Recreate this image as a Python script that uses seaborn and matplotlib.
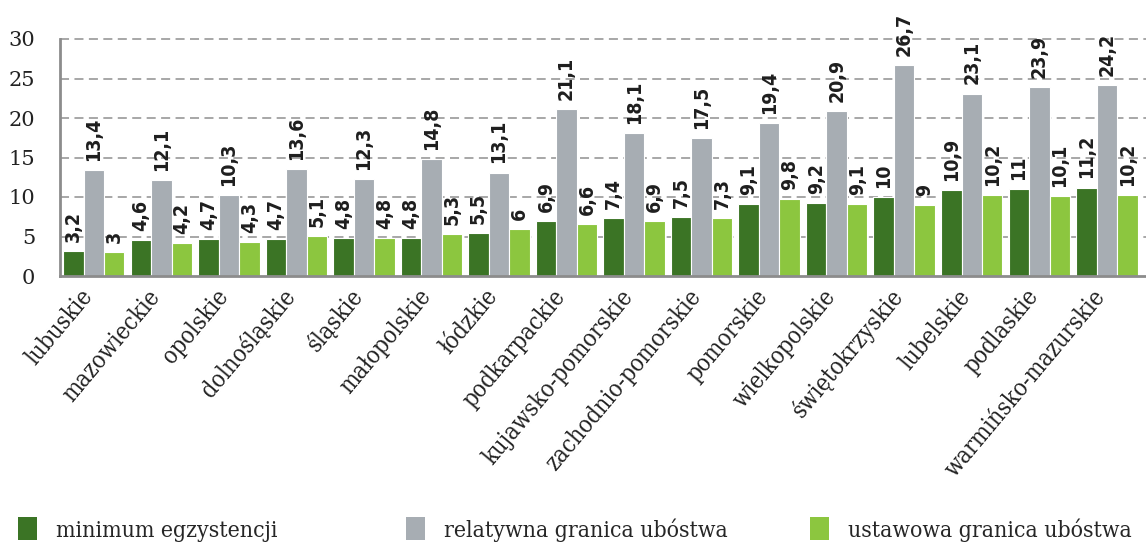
import matplotlib
matplotlib.use("Agg")
import matplotlib.pyplot as plt
import seaborn as sns
import pandas as pd
from matplotlib.patches import Patch

regions = ["lubuskie", "mazowieckie", "opolskie", "dolnośląskie", "śląskie",
           "małopolskie", "łódzkie", "podkarpackie", "kujawsko-pomorskie",
           "zachodnio-pomorskie", "pomorskie", "wielkopolskie", "świętokrzyskie",
           "lubelskie", "podlaskie", "warmińsko-mazurskie"]
minimum = [3.2, 4.6, 4.7, 4.7, 4.8, 4.8, 5.5, 6.9, 7.4, 7.5, 9.1, 9.2, 10, 10.9, 11, 11.2]
relatywna = [13.4, 12.1, 10.3, 13.6, 12.3, 14.8, 13.1, 21.1, 18.1, 17.5, 19.4, 20.9, 26.7, 23.1, 23.9, 24.2]
ustawowa = [3, 4.2, 4.3, 5.1, 4.8, 5.3, 6, 6.6, 6.9, 7.3, 9.8, 9.1, 9, 10.2, 10.1, 10.2]
series_names = ["minimum egzystencji", "relatywna granica ubóstwa", "ustawowa granica ubóstwa"]
yticks = [0, 5, 10, 15, 20, 25, 30]

colors = ["#3b7425", "#a7adb3", "#8cc63f"]

df = pd.DataFrame({
    "region": regions * 3,
    "seria": [series_names[0]] * 16 + [series_names[1]] * 16 + [series_names[2]] * 16,
    "value": minimum + relatywna + ustawowa,
})

sns.set_theme(style="white")
serif = ["DejaVu Serif"]

W, H = 1146, 543
fig = plt.figure(figsize=(W / 100, H / 100), dpi=100)
ax = fig.add_axes([60 / W, 1 - 276 / H, 1 - 60 / W, 237 / H])

sns.barplot(data=df, x="region", y="value", hue="seria", order=regions,
            hue_order=series_names, palette=colors, width=0.91, saturation=1,
            edgecolor="white", linewidth=0.8, ax=ax, legend=False, errorbar=None)

vals = [minimum, relatywna, ustawowa]
for cont, v in zip(ax.containers, vals):
    labels = [("%g" % x).replace(".", ",") for x in v]
    ax.bar_label(cont, labels=labels, rotation=90, padding=6.5,
                 fontsize=14, fontweight="bold", color="#1e1e1e",
                 family=["DejaVu Sans"], fontstretch="condensed")

ax.set_ylim(0, 30)
ax.set_xlim(-0.5, 15.58)
ax.set_yticks(yticks)
ax.set_yticklabels([str(t) for t in yticks], family=serif, fontsize=15,
                   color="#222222")
ax.set_xticks(range(len(regions)))
ax.set_xticklabels(regions, rotation=50, ha="right", va="baseline",
                   rotation_mode="anchor", family=serif, fontsize=17,
                   fontstretch="condensed", color="#222222")
ax.tick_params(axis="y", length=0, pad=18)
ax.tick_params(axis="x", length=0, pad=15)
ax.set_xlabel("")
ax.set_ylabel("")

for y in yticks[1:]:
    ax.axhline(y, color="#a0a0a0", linewidth=1.3, linestyle=(0, (5, 3)), zorder=0, clip_on=False)
ax.set_axisbelow(True)
for s in ["top", "right"]:
    ax.spines[s].set_visible(False)
for s in ["left", "bottom"]:
    ax.spines[s].set_color("#8c8c8c")
    ax.spines[s].set_linewidth(2)

xs = [18 / W, 406 / W, 810 / W]
for name, c, x in zip(series_names, colors, xs):
    fig.legend(handles=[Patch(facecolor=c, edgecolor="none", label=name)],
               loc="center left", bbox_to_anchor=(x, 1 - 529.5 / H),
               frameon=False, handlelength=0.85, handleheight=1.15,
               handletextpad=0.8, borderaxespad=0, borderpad=0,
               prop={"family": serif, "size": 16.5, "stretch": "condensed"})

fig.savefig("out.png", dpi=100)
